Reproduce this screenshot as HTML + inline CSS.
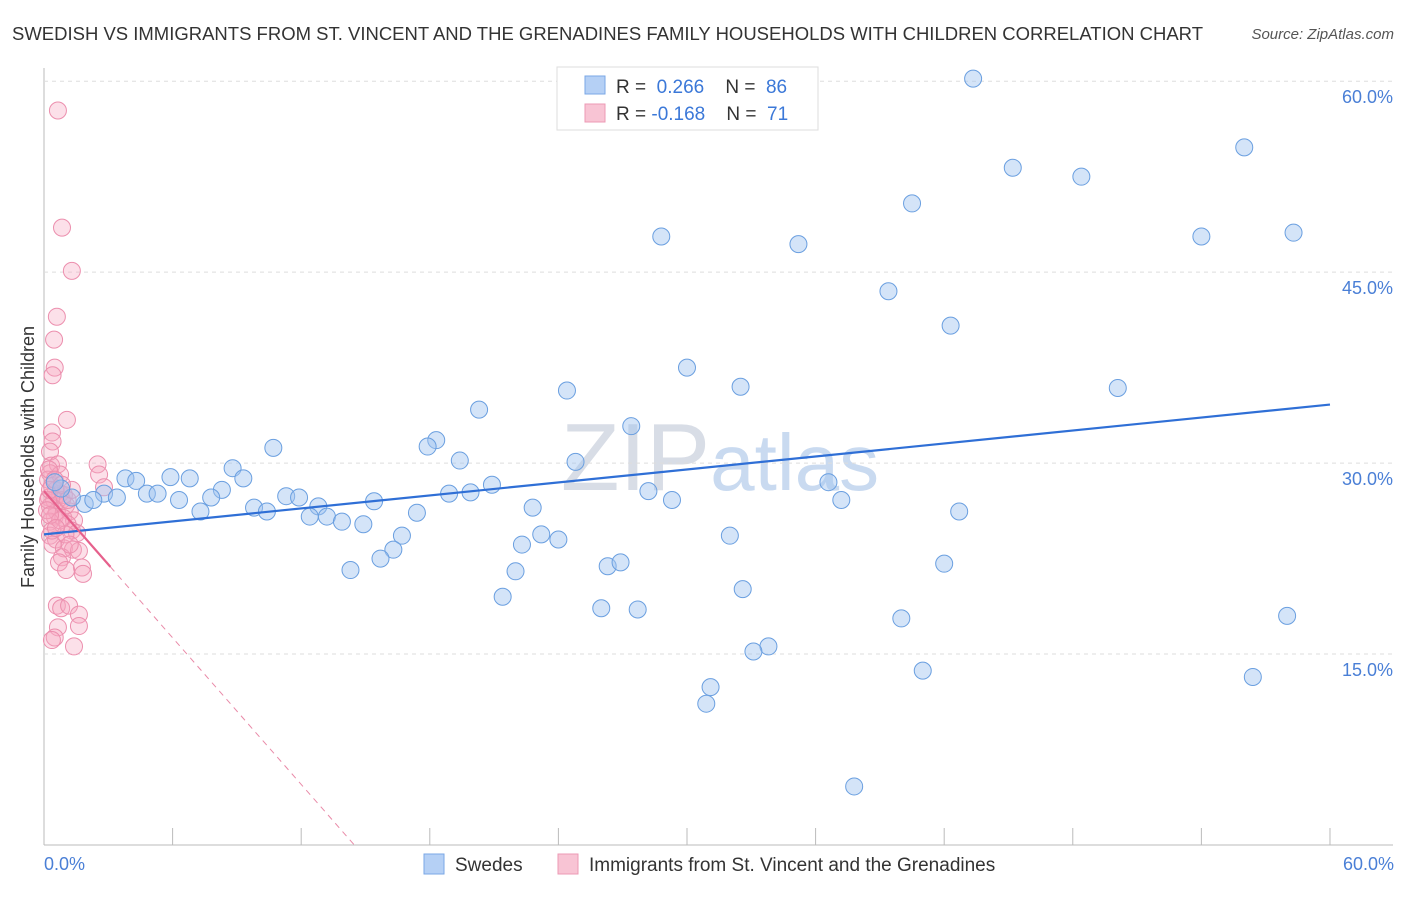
<!DOCTYPE html>
<html><head><meta charset="utf-8"><style>
body{margin:0;background:#fff;font-family:"Liberation Sans",sans-serif}
svg text{font-family:"Liberation Sans",sans-serif}
</style></head><body>
<svg id="chart" width="1406" height="892">
<text x="12" y="40" font-size="18" fill="#333" textLength="1191" lengthAdjust="spacingAndGlyphs">SWEDISH VS IMMIGRANTS FROM ST. VINCENT AND THE GRENADINES FAMILY HOUSEHOLDS WITH CHILDREN CORRELATION CHART</text>
<text x="1394" y="39" font-size="15" fill="#555" text-anchor="end" font-style="italic">Source: ZipAtlas.com</text>
<text x="720" y="490" font-size="96" fill="#d8dde6" text-anchor="middle" font-family="Liberation Serif">ZIP<tspan fill="#c9daf0" font-family="Liberation Sans" font-size="80">atlas</tspan></text>
<g id="grid"></g><g id="pts"></g><g id="trend"></g>
<text transform="translate(34,457) rotate(-90)" font-size="18" fill="#333" text-anchor="middle">Family Households with Children</text>
<text x="44" y="870" font-size="18" fill="#4a7fd6">0.0%</text>
<text x="1394" y="870" font-size="18" fill="#4a7fd6" text-anchor="end">60.0%</text>
<g>
<rect x="557" y="67" width="261" height="63" fill="#fff" stroke="#ddd"/>
<rect x="585" y="76" width="20" height="18" fill="#b5d0f5" stroke="#7aa7e6"/>
<rect x="585" y="104" width="20" height="18" fill="#f8c4d4" stroke="#ec9ab4"/>
<text x="616" y="93" font-size="19" fill="#333">R = <tspan fill="#3b78d8">&#160;0.266</tspan>&#160;&#160;&#160; N = <tspan fill="#3b78d8">&#160;86</tspan></text>
<text x="616" y="120" font-size="19" fill="#333">R = <tspan fill="#3b78d8">-0.168</tspan>&#160;&#160;&#160; N = <tspan fill="#3b78d8">&#160;71</tspan></text>
</g>
<g>
<rect x="424" y="854" width="20" height="20" fill="#b5d0f5" stroke="#7aa7e6"/>
<text x="455" y="871" font-size="19" fill="#333">Swedes</text>
<rect x="558" y="854" width="20" height="20" fill="#f8c4d4" stroke="#ec9ab4"/>
<text x="589" y="871" font-size="19" fill="#333">Immigrants from St. Vincent and the Grenadines</text>
</g>
</svg>
<script>
const yTicks=[15,30,45,60];
const xTicks=[0,6,12,18,24,30,36,42,48,54,60];
const blueX=[43.35,56.0,45.2,48.4,40.5,28.8,35.2,54.0,58.3,39.4,42.3,30.0,32.5,24.4,50.1,20.3,27.4,18.3,17.9,10.7,19.4,24.8,8.8,3.8,4.3,5.9,6.8,9.3,20.9,28.2,36.6,18.9,19.9,8.3,2.8,3.4,4.8,5.3,6.3,7.8,11.3,11.9,15.4,12.8,37.2,29.3,22.8,9.8,10.4,7.3,12.4,13.2,13.9,14.9,17.4,42.7,1.9,2.3,1.3,0.8,0.5,16.7,23.2,32.0,22.3,24.0,16.3,15.7,14.3,22.0,26.3,26.9,42.0,32.6,21.4,26.0,27.7,40.0,58.0,33.8,33.1,41.0,56.4,31.1,30.9,37.8];
const blueY=[60.2,54.8,53.2,52.5,50.4,47.8,47.2,47.8,48.1,43.5,40.8,37.5,36.0,35.7,35.9,34.2,32.9,31.8,31.3,31.2,30.2,30.1,29.6,28.8,28.6,28.9,28.8,28.8,28.3,27.8,28.5,27.6,27.7,27.9,27.6,27.3,27.6,27.6,27.1,27.3,27.4,27.3,27.0,26.6,27.1,27.1,26.5,26.5,26.2,26.2,25.8,25.8,25.4,25.2,26.1,26.2,26.8,27.1,27.3,28.0,28.5,24.3,24.4,24.3,23.6,24.0,23.2,22.5,21.6,21.5,21.9,22.2,22.1,20.1,19.5,18.6,18.5,17.8,18.0,15.6,15.2,13.7,13.2,12.4,11.1,4.6];
const pinkX=[0.65,0.84,1.3,0.6,0.47,0.5,0.4,1.07,0.37,0.4,0.28,2.5,0.33,0.65,2.57,0.28,2.8,0.19,0.37,0.56,0.75,0.23,0.47,0.84,1.03,0.28,0.6,1.2,0.5,0.9,1.4,0.28,1.1,1.3,1.54,0.28,0.56,0.4,0.93,1.35,1.63,0.84,0.7,1.77,1.03,1.82,0.6,0.8,1.17,1.63,0.65,1.63,0.5,0.37,1.4,0.19,0.14,0.28,0.37,0.75,1.0,1.2,0.75,0.28,0.56,0.93,1.1,1.3,0.23,0.5,0.84];
const pinkY=[57.7,48.5,45.1,41.5,39.7,37.5,36.9,33.4,32.4,31.7,30.9,29.9,29.8,29.9,29.1,29.2,28.1,28.7,28.2,27.9,27.6,27.3,27.1,27.1,26.7,26.6,26.2,26.2,25.8,25.7,25.5,25.4,25.2,24.7,24.5,24.3,24.0,23.6,23.3,23.2,23.1,22.6,22.2,21.8,21.6,21.3,18.8,18.6,18.8,18.1,17.1,17.2,16.3,16.1,15.6,27.1,26.3,27.9,24.7,25.5,24.4,23.6,29.1,25.9,24.9,27.5,27.1,27.9,29.5,28.7,28.3];
const blueTrend=[24.4,34.6];
const pinkTrend=[27.8,-1.92];
const X=v=>44+v*21.433, Y=v=>845-v*12.73;
const NS='http://www.w3.org/2000/svg';
function mk(p,t,a){const e=document.createElementNS(NS,t);for(const k in a)e.setAttribute(k,a[k]);p.appendChild(e);return e;}
const grid=document.getElementById('grid');
mk(grid,'line',{x1:44,y1:68,x2:44,y2:845,stroke:'#bbb'});
mk(grid,'line',{x1:44,y1:845,x2:1393,y2:845,stroke:'#bbb'});
yTicks.forEach(t=>{
 const l=mk(grid,'line',{x1:44,y1:Y(t),x2:1393,y2:Y(t),stroke:'#ddd','stroke-dasharray':'4,4'});
 
 
 const tx=mk(grid,'text',{x:1393,y:Y(t)+22,'font-size':18,fill:'#4a7fd6','text-anchor':'end'});
 tx.textContent=t.toFixed(1)+'%';
 
 
});
xTicks.forEach(t=>{
 const l=mk(grid,'line',{x1:X(t),y1:828,x2:X(t),y2:845,stroke:'#bbb'});
 
 
});
const pts=document.getElementById('pts');
pinkX.forEach((x,i)=>{
 const c=mk(pts,'circle',{cx:X(x),cy:Y(pinkY[i]),r:8.5,fill:'rgba(245,165,192,0.35)',stroke:'#ec8fae','stroke-width':1});
 
 
});
blueX.forEach((x,i)=>{
 const c=mk(pts,'circle',{cx:X(x),cy:Y(blueY[i]),r:8.5,fill:'rgba(160,196,240,0.45)',stroke:'#6a9fe0','stroke-width':1});
 
 
});
const tr=document.getElementById('trend');
const bl=mk(tr,'line',{x1:X(0),y1:Y(blueTrend[0]),x2:X(60),y2:Y(blueTrend[1]),stroke:'#2f6fd6','stroke-width':2.2});


const pz=-pinkTrend[0]/pinkTrend[1];
const pd=mk(tr,'line',{x1:X(3.1),y1:Y(pinkTrend[0]+pinkTrend[1]*3.1),x2:X(pz),y2:Y(0),stroke:'#e98aa8','stroke-width':1,'stroke-dasharray':'6,5'});


const ps=mk(tr,'line',{x1:X(0),y1:Y(pinkTrend[0]),x2:X(3.1),y2:Y(pinkTrend[0]+pinkTrend[1]*3.1),stroke:'#e6608c','stroke-width':2.2});


</script>
</body></html>
